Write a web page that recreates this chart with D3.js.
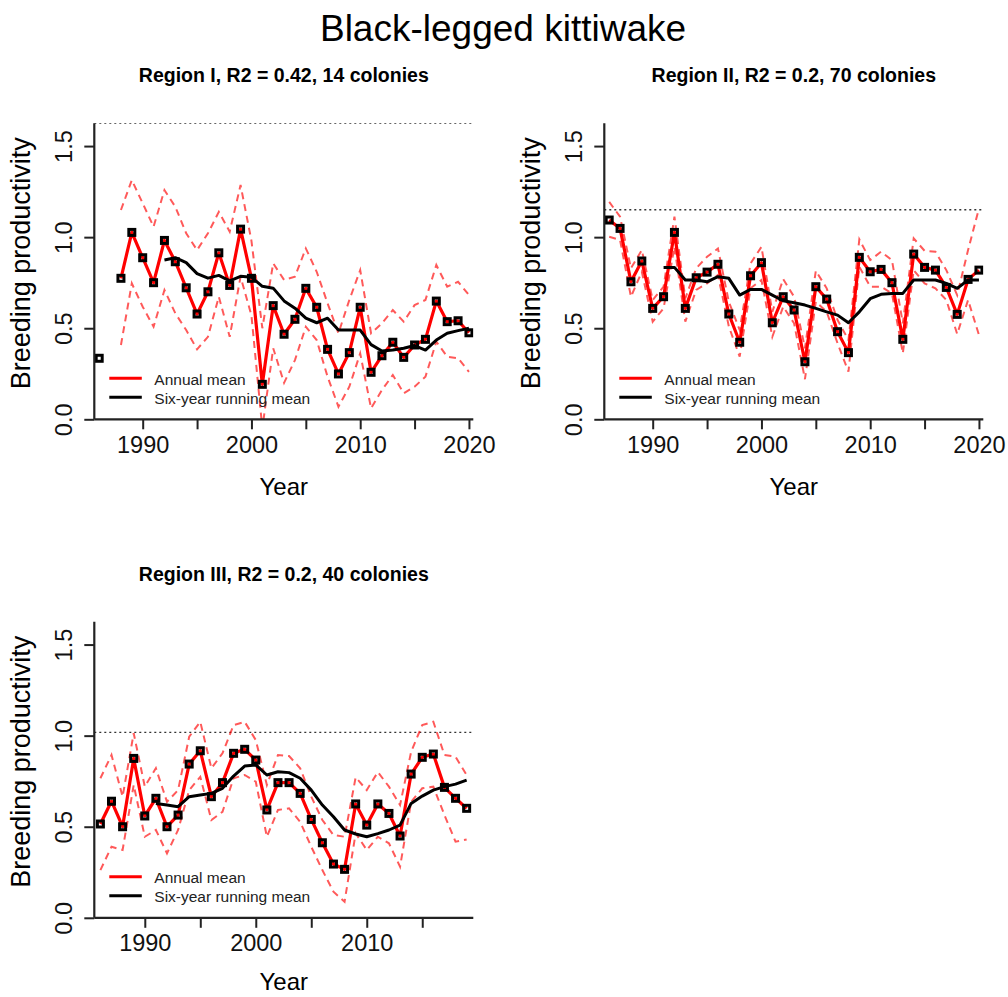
<!DOCTYPE html>
<html>
<head>
<meta charset="utf-8">
<script src="https://cdn.jsdelivr.net/npm/d3@7"></script>
<style>
  body { margin: 0; background: #fff; }
  svg { display: block; font-family: "Liberation Sans", Arial, sans-serif; }
</style>
</head>
<body>
<svg id="chart" width="1008" height="997"></svg>
<script>
// Black-legged kittiwake: breeding productivity per region

// Region I
var years1 = d3.range(1986, 2021);
var annual1 = [0.335, null, 0.774, 1.026, 0.887, 0.75, 0.982, 0.865, 0.722, 0.578, 0.70, 0.914, 0.735, 1.044, 0.774, 0.192, 0.624, 0.467, 0.549, 0.719, 0.615, 0.384, 0.249, 0.366, 0.615, 0.258, 0.349, 0.423, 0.340, 0.408, 0.439, 0.649, 0.536, 0.541, 0.475];
var upper1 = [null, null, 1.149, 1.313, 1.186, 1.057, 1.258, 1.167, 1.021, 0.929, 1.021, 1.139, 1.03, 1.286, 0.98, 0.50, 0.856, 0.765, 0.783, 0.938, 0.81, 0.637, 0.472, 0.655, 0.819, 0.472, 0.527, 0.60, 0.536, 0.627, 0.655, 0.847, 0.728, 0.755, 0.682];
var lower1 = [null, null, 0.408, 0.746, 0.618, 0.508, 0.71, 0.582, 0.49, 0.384, 0.453, 0.673, 0.453, 0.783, 0.57, -0.05, 0.39, 0.20, 0.325, 0.508, 0.435, 0.234, 0.069, 0.179, 0.362, 0.06, 0.161, 0.243, 0.143, 0.179, 0.234, 0.426, 0.344, 0.335, 0.261];
var running1 = [null, null, null, null, null, null, 0.875, 0.887, 0.86, 0.80, 0.775, 0.79, 0.76, 0.785, 0.78, 0.73, 0.72, 0.65, 0.61, 0.555, 0.53, 0.555, 0.49, 0.49, 0.49, 0.41, 0.375, 0.38, 0.39, 0.405, 0.38, 0.435, 0.472, 0.487, 0.50];

// Region II
var years2 = d3.range(1986, 2021);
var annual2 = [1.094, 1.048, 0.755, 0.869, 0.609, 0.673, 1.026, 0.609, 0.777, 0.808, 0.851, 0.578, 0.423, 0.788, 0.86, 0.53, 0.673, 0.60, 0.316, 0.728, 0.66, 0.481, 0.366, 0.889, 0.81, 0.823, 0.75, 0.439, 0.907, 0.834, 0.819, 0.724, 0.576, 0.768, 0.819];
var upper2 = [1.194, 1.112, 0.829, 0.929, 0.655, 0.728, 1.112, 0.664, 0.829, 0.892, 0.938, 0.645, 0.49, 0.856, 0.947, 0.59, 0.77, 0.673, 0.39, 0.816, 0.719, 0.545, 0.435, 0.988, 0.874, 0.92, 0.874, 0.527, 0.993, 0.925, 0.92, 0.819, 0.682, 0.929, 1.158];
var lower2 = [1.002, 0.984, 0.673, 0.81, 0.536, 0.609, 0.947, 0.536, 0.71, 0.746, 0.792, 0.51, 0.344, 0.719, 0.765, 0.453, 0.618, 0.527, 0.22, 0.646, 0.59, 0.417, 0.261, 0.838, 0.728, 0.728, 0.691, 0.362, 0.819, 0.746, 0.719, 0.655, 0.468, 0.655, 0.463];
var running2 = [null, null, null, null, null, 0.834, 0.834, 0.765, 0.765, 0.755, 0.783, 0.774, 0.682, 0.713, 0.713, 0.682, 0.651, 0.64, 0.627, 0.609, 0.59, 0.572, 0.53, 0.59, 0.662, 0.686, 0.691, 0.691, 0.765, 0.765, 0.765, 0.746, 0.719, 0.765, 0.765];

// Region III
var years3 = d3.range(1986, 2020);
var annual3 = [0.515, 0.64, 0.50, 0.875, 0.559, 0.656, 0.50, 0.564, 0.844, 0.917, 0.665, 0.742, 0.903, 0.925, 0.866, 0.592, 0.742, 0.742, 0.683, 0.54, 0.412, 0.295, 0.266, 0.625, 0.509, 0.625, 0.573, 0.449, 0.789, 0.881, 0.899, 0.716, 0.656, 0.601];
var upper3 = [0.766, 0.894, 0.665, 1.013, 0.72, 0.821, 0.637, 0.701, 0.994, 1.076, 0.821, 0.903, 1.058, 1.076, 0.976, 0.729, 0.894, 0.888, 0.821, 0.665, 0.537, 0.454, 0.445, 0.771, 0.701, 0.80, 0.72, 0.619, 0.912, 1.058, 1.076, 0.894, 0.884, 0.784];
var lower3 = [0.262, 0.39, 0.372, 0.729, 0.445, 0.482, 0.354, 0.482, 0.701, 0.774, 0.537, 0.582, 0.766, 0.784, 0.747, 0.445, 0.592, 0.601, 0.527, 0.39, 0.262, 0.143, 0.088, 0.464, 0.372, 0.445, 0.409, 0.281, 0.637, 0.711, 0.72, 0.564, 0.418, 0.43];
var running3 = [null, null, null, null, null, 0.628, 0.619, 0.61, 0.665, 0.674, 0.683, 0.711, 0.778, 0.833, 0.839, 0.784, 0.802, 0.797, 0.766, 0.701, 0.619, 0.555, 0.482, 0.46, 0.445, 0.462, 0.482, 0.509, 0.628, 0.668, 0.701, 0.72, 0.734, 0.756];

// titles, reference lines, axis ticks
var titles = ["Region I, R2 = 0.42, 14 colonies", "Region II, R2 = 0.2, 70 colonies", "Region III, R2 = 0.2, 40 colonies"];
var refLines = [1.625, 1.15, 1.018];
var xLimits = [[1985.55, 2020.4], [1985.55, 2020.4], [1985.45, 2019.6]];
var xTicks = [1990, 1995, 2000, 2005, 2010, 2015, 2020];
var xTickLabels = [1990, 2000, 2010, 2020];
var yTicks = [0, 0.5, 1.0, 1.5];
var legendLabels = ["Annual mean", "Six-year running mean"];

var panels = [
  {years: years1, annual: annual1, upper: upper1, lower: lower1, running: running1, left: 94.3, top: 123.3},
  {years: years2, annual: annual2, upper: upper2, lower: lower2, running: running2, left: 604.3, top: 123.3},
  {years: years3, annual: annual3, upper: upper3, lower: lower3, running: running3, left: 94.3, top: 621.8}
];

var width = 379, height = 296;
var axisColor = "#222";

var svg = d3.select("#chart");

svg.append("text")
    .attr("x", 503).attr("y", 41)
    .attr("text-anchor", "middle")
    .attr("font-size", 37)
    .text("Black-legged kittiwake");

panels.forEach(function(p, i) {
  var x = d3.scaleLinear().domain(xLimits[i]).range([0, width]);
  var y = d3.scaleLinear().domain([0, 1.625]).range([height, 0]);

  var g = svg.append("g")
      .attr("transform", "translate(" + p.left + "," + p.top + ")");

  g.append("clipPath").attr("id", "clip" + i)
    .append("rect").attr("width", width).attr("height", height);

  // panel title
  g.append("text")
      .attr("x", width / 2).attr("y", -41)
      .attr("text-anchor", "middle")
      .attr("font-size", 19.5)
      .attr("font-weight", "bold")
      .text(titles[i]);

  var rows = p.years.map(function(yr, k) {
    return {year: yr, annual: p.annual[k], upper: p.upper[k], lower: p.lower[k], running: p.running[k]};
  });

  var plot = g.append("g").attr("clip-path", "url(#clip" + i + ")");

  // reference line
  plot.append("line")
      .attr("x1", 0).attr("x2", width)
      .attr("y1", y(refLines[i])).attr("y2", y(refLines[i]))
      .attr("stroke", "#333").attr("stroke-width", 1.4)
      .attr("stroke-dasharray", "2,3");

  function lineOf(key) {
    return d3.line()
        .defined(function(d) { return d[key] !== null; })
        .x(function(d) { return x(d.year); })
        .y(function(d) { return y(d[key]); });
  }

  // confidence band lines
  ["upper", "lower"].forEach(function(key) {
    plot.append("path").datum(rows)
        .attr("fill", "none")
        .attr("stroke", "rgba(255,0,0,0.65)")
        .attr("stroke-width", 2)
        .attr("stroke-dasharray", "7,5")
        .attr("d", lineOf(key));
  });

  // annual mean
  plot.append("path").datum(rows)
      .attr("fill", "none").attr("stroke", "#ff0000")
      .attr("stroke-width", 3.2).attr("stroke-linejoin", "round")
      .attr("d", lineOf("annual"));

  // six-year running mean
  plot.append("path").datum(rows)
      .attr("fill", "none").attr("stroke", "#000")
      .attr("stroke-width", 3).attr("stroke-linejoin", "round")
      .attr("d", lineOf("running"));

  // points
  plot.selectAll("rect.pt")
      .data(rows.filter(function(d) { return d.annual !== null; }))
      .enter().append("rect")
      .attr("class", "pt")
      .attr("x", function(d) { return x(d.year) - 3; })
      .attr("y", function(d) { return y(d.annual) - 3; })
      .attr("width", 6).attr("height", 6)
      .attr("fill", "none").attr("stroke", "#000").attr("stroke-width", 3);

  // axes
  var dom = x.domain();
  var ticksHere = xTicks.filter(function(t) { return t >= dom[0] && t <= dom[1]; });
  var xAxis = d3.axisBottom(x).tickValues(ticksHere).tickSizeOuter(0).tickSize(10).tickPadding(7)
      .tickFormat(function(d) { return xTickLabels.indexOf(d) >= 0 ? d : ""; });
  var gx = g.append("g").attr("transform", "translate(0," + height + ")").call(xAxis);
  gx.select(".domain").remove();
  gx.append("line").attr("x1", 0).attr("x2", width)
      .attr("stroke", axisColor).attr("stroke-width", 2.2);

  var yAxis = d3.axisLeft(y).tickValues(yTicks).tickSizeOuter(0).tickSize(10).tickPadding(12)
      .tickFormat(d3.format(".1f"));
  var gy = g.append("g").call(yAxis);
  gy.select(".domain").remove();
  gy.append("line").attr("y1", 0).attr("y2", height)
      .attr("stroke", axisColor).attr("stroke-width", 2.2);

  [gx, gy].forEach(function(a) {
    a.selectAll(".tick line").attr("stroke", axisColor).attr("stroke-width", 2);
    a.selectAll(".tick text").attr("font-size", 23.5).attr("fill", "#111")
        .attr("font-family", "Liberation Sans, Arial, sans-serif");
  });
  gy.selectAll(".tick text")
      .attr("text-anchor", "middle")
      .attr("dy", 0)
      .attr("x", 0)
      .attr("transform", "translate(-22.8,0) rotate(-90)");

  // axis titles (keep the lowest one inside the page)
  var yearY = Math.min(height + 76, 990 - p.top);
  g.append("text")
      .attr("x", width / 2).attr("y", yearY)
      .attr("text-anchor", "middle").attr("font-size", 24)
      .text("Year");
  g.append("text")
      .attr("transform", "translate(-64," + (height / 2 - 8) + ") rotate(-90)")
      .attr("text-anchor", "middle").attr("font-size", 27)
      .text("Breeding productivity");

  // legend
  var legendColors = ["#ff0000", "#000"];
  legendLabels.forEach(function(lbl, k) {
    var ly = 255 + k * 19;
    g.append("line")
        .attr("x1", 15).attr("x2", 47.5)
        .attr("y1", ly).attr("y2", ly)
        .attr("stroke", legendColors[k]).attr("stroke-width", 3);
    g.append("text")
        .attr("x", 60).attr("y", ly + 6.5)
        .attr("font-size", 15.5).attr("fill", "#222")
        .text(lbl);
  });
});
</script>
</body>
</html>
